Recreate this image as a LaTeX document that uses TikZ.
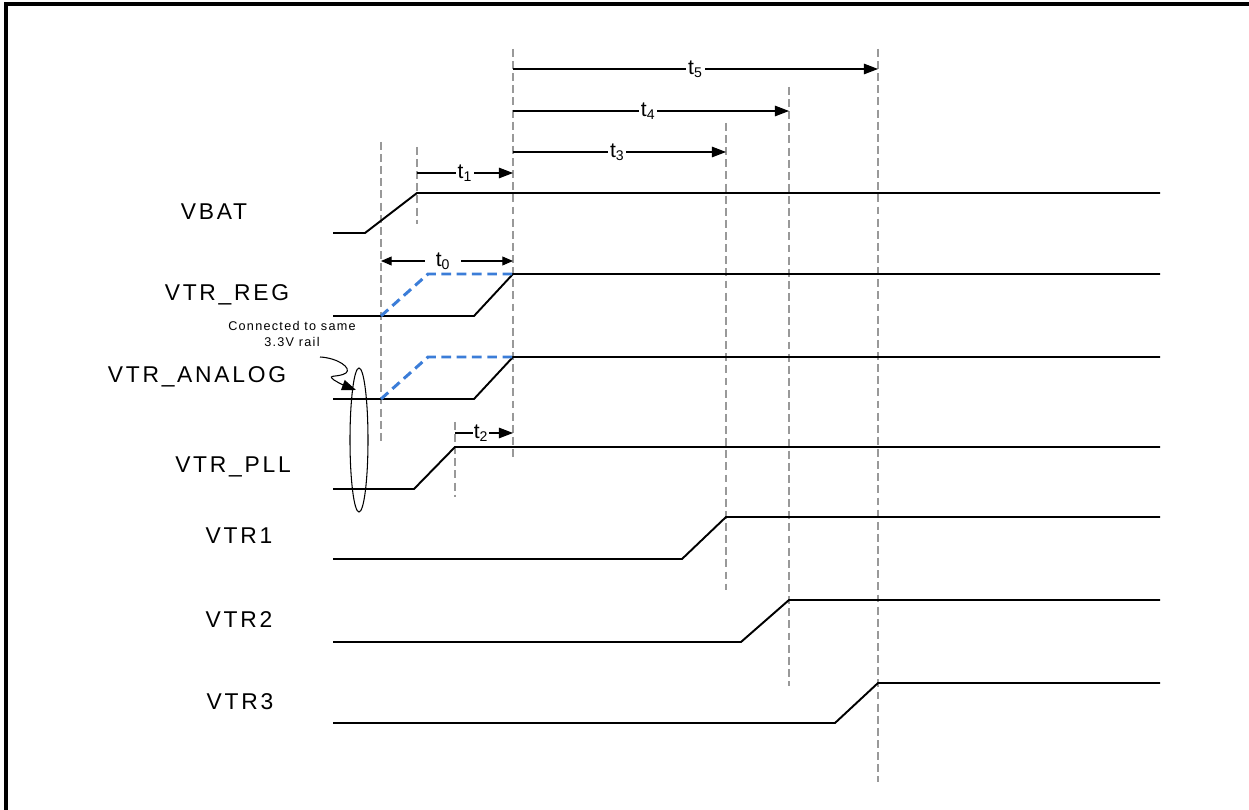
\documentclass[tikz,border=0pt]{standalone}
\usepackage{fontspec}
\setmainfont{Liberation Sans}
\newfontfamily\lblfont[LetterSpace=12]{Liberation Sans}
\newfontfamily\notefont[LetterSpace=10]{Liberation Sans}
\usetikzlibrary{arrows.meta}
\definecolor{guidegray}{HTML}{999999}
\definecolor{railblue}{HTML}{3B7DD8}
\tikzset{
  sig/.style={line width=1.1pt, black, line join=miter},
  guide/.style={line width=1.3pt, guidegray, dash pattern=on 4.5pt off 2.4pt},
  rail/.style={line width=1.7pt, railblue, dash pattern=on 5.5pt off 3.2pt},
  tarrow/.style={line width=0.6pt, -{Triangle[length=8pt,width=6pt]}},
  tdarrow/.style={line width=0.6pt, {Triangle[length=6pt,width=5pt]}-{Triangle[length=6pt,width=5pt]}},
  tlab/.style={fill=white, inner sep=1pt, font=\fontsize{12}{14}\selectfont},
  siglab/.style={font=\lblfont\fontsize{13}{15}\selectfont, inner sep=0pt},
}
\begin{document}
\begin{tikzpicture}[x=0.02cm, y=-0.02cm]
\useasboundingbox (0,0) rectangle (1249,810);
\draw[line width=2.3pt] (6,830) -- (6,4) -- (1270,4);

% guide coordinates
\coordinate (d0t) at (381,142); \coordinate (d0b) at (381,442);
\coordinate (d1t) at (417,147); \coordinate (d1b) at (417,224);
\coordinate (dmt) at (513,49);  \coordinate (dmb) at (513,460);
\coordinate (d2t) at (455,422); \coordinate (d2b) at (455,497);
\coordinate (d3t) at (726,123); \coordinate (d3b) at (726,590);
\coordinate (d4t) at (789,87);  \coordinate (d4b) at (789,686);
\coordinate (d5t) at (878,49);  \coordinate (d5b) at (878,782);
\foreach \a/\b in {d0t/d0b,d1t/d1b,dmt/dmb,d2t/d2b,d3t/d3b,d4t/d4b,d5t/d5b}
  \draw[guide] (\a) -- (\b);

% signals
\draw[sig] (333,233) -- (365,233) -- (417,193) -- (1160,193);
\draw[sig] (333,316) -- (474,316) -- (513,274) -- (1160,274);
\draw[sig] (333,399) -- (474,399) -- (513,357) -- (1160,357);
\draw[sig] (333,489) -- (414,489) -- (455,447) -- (1160,447);
\draw[sig] (333,559) -- (682,559) -- (726,517) -- (1160,517);
\draw[sig] (333,642) -- (741,642) -- (789,600) -- (1160,600);
\draw[sig] (333,723) -- (835,723) -- (878,683) -- (1160,683);

% shared rail (blue dashed)
\draw[rail] (381,316) -- (428,274) -- (513,274);
\draw[rail] (381,399) -- (428,357) -- (513,357);

% signal labels
\node[siglab] (vbat) at (214,212) {VBAT};
\node[siglab] (vreg) at (227,295) {VTR\_REG};
\node[siglab] (vana) at (197,377) {VTR\_ANALOG};
\node[siglab] (vpll) at (233,467) {VTR\_PLL};
\node[siglab] (v1) at (239,536) {VTR1};
\node[siglab] (v2) at (239,620) {VTR2};
\node[siglab] (v3) at (240,702) {VTR3};

% timing arrows
\coordinate (a5s) at (513,69);  \coordinate (a5e) at (878,69);
\coordinate (a4s) at (513,111); \coordinate (a4e) at (789,111);
\coordinate (a3s) at (513,152); \coordinate (a3e) at (726,152);
\coordinate (a1s) at (417,173); \coordinate (a1e) at (513,173);
\coordinate (a0s) at (381,261); \coordinate (a0e) at (513,261);
\coordinate (a2s) at (455,433); \coordinate (a2e) at (513,433);
\draw[tarrow] (a5s) -- node[tlab] (t5) {t\textsubscript{5}} (a5e);
\draw[tarrow] (a4s) -- node[tlab, pos=0.49] (t4) {t\textsubscript{4}} (a4e);
\draw[tarrow] (a3s) -- node[tlab, pos=0.49] (t3) {t\textsubscript{3}} (a3e);
\draw[tarrow] (a1s) -- node[tlab] (t1) {t\textsubscript{1}} (a1e);
\draw[tdarrow] (a0s) -- node[tlab, pos=0.47, inner xsep=6pt] (t0) {t\textsubscript{0}} (a0e);
\draw[tarrow] (a2s) -- node[tlab, pos=0.45, inner sep=0.5pt] (t2) {t\textsubscript{2}} (a2e);

% annotation
\node[font=\notefont\fontsize{7.2}{9}\selectfont, align=center, inner sep=0pt] (note) at (292,334) {Connected to same\\3.3V rail};
\draw[line width=0.6pt] (359,440) ellipse [x radius=9, y radius=72];
\coordinate (cstart) at (320,357);
\coordinate (ctip) at (356,390);
\draw[line width=0.6pt, -{Triangle[length=8pt,width=6pt]}] (cstart) .. controls (338,358) and (352,368) .. (346,373) .. controls (338,378) and (326,374) .. (334,380) .. controls (340,384) and (348,387) .. (ctip);
\end{tikzpicture}
\end{document}
